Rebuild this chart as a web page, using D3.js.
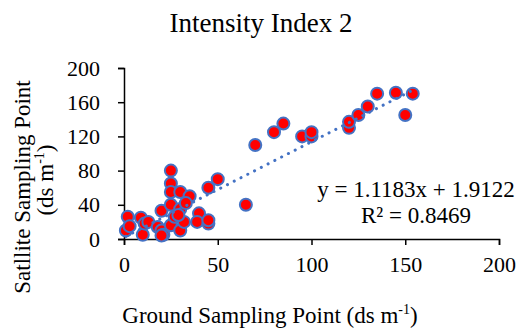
<!DOCTYPE html>
<html>
<head>
<meta charset="utf-8">
<script src="https://cdn.jsdelivr.net/npm/d3@7"></script>
<style>
  body { margin: 0; background: #fff; }
  .axis path, .axis line { stroke: #000; stroke-width: 1.5; }
</style>
</head>
<body>
<div id="chart"></div>
<script>
// values
var groundX = [1, 2, 3, 9, 10, 11, 13, 18, 20, 20, 21,
    25, 25, 25, 30, 35, 25, 30, 20, 25, 30, 32, 27, 29, 33, 40, 39, 45, 45, 45, 50,
    65, 70, 80, 85, 95, 100, 100, 120, 120, 125, 130, 135, 145, 150, 154];
var satY = [10, 26, 15, 25, 5, 18, 20, 14, 33, 10, 5,
    80, 65, 55, 55, 50, 40, 35, 4, 16, 10, 20, 26, 28, 42, 30, 20, 18, 22, 60, 70,
    40, 110, 125, 135, 120, 120, 125, 130, 137, 145, 155, 170, 171, 145, 170];
var xTicks = [0, 50, 100, 150, 200];
var yTicks = [0, 40, 80, 120, 160, 200];
var slope = 1.1183, intercept = 1.9122, rSquared = 0.8469;

var FONT = "'Liberation Serif', 'Times New Roman', serif";

var data = groundX.map(function(x, i) { return {x: x, y: satY[i]}; });

var margin = {top: 68, right: 24, bottom: 93, left: 124};
var width = 523 - margin.left - margin.right,
    height = 332 - margin.top - margin.bottom;

var svg = d3.select("#chart").append("svg")
    .attr("width", 523)
    .attr("height", 332);

var g = svg.append("g")
    .attr("transform", "translate(" + margin.left + "," + margin.top + ")");

var xScale = d3.scaleLinear().domain([0, 200]).range([0, width]);
var yScale = d3.scaleLinear().domain([0, 200]).range([height, 0]);

g.append("g")
    .attr("class", "axis x-axis")
    .attr("transform", "translate(0," + height + ")")
    .call(d3.axisBottom(xScale).tickValues(xTicks).tickSizeOuter(0).tickSize(6).tickPadding(11))
    .selectAll("text")
        .style("font-family", FONT)
        .style("font-size", "22px")
        .style("fill", "#000");

g.append("g")
    .attr("class", "axis y-axis")
    .call(d3.axisLeft(yScale).tickValues(yTicks).tickSizeOuter(0).tickSize(6).tickPadding(18))
    .selectAll("text")
        .style("font-family", FONT)
        .style("font-size", "22px")
        .style("fill", "#000");

g.selectAll("circle")
    .data(data)
    .enter()
    .append("circle")
    .attr("cx", function(d) { return xScale(d.x); })
    .attr("cy", function(d) { return yScale(d.y); })
    .attr("r", 6)
    .style("fill", "#FF0000")
    .style("stroke", "#4472C4")
    .style("stroke-width", 2);

// trendline (dotted), drawn over the markers like Excel
var xExtent = d3.extent(groundX);
g.append("line")
    .attr("x1", xScale(xExtent[0]))
    .attr("y1", yScale(slope * xExtent[0] + intercept))
    .attr("x2", xScale(xExtent[1]))
    .attr("y2", yScale(slope * xExtent[1] + intercept))
    .style("stroke", "#4472C4")
    .style("stroke-width", 3)
    .style("stroke-linecap", "round")
    .style("stroke-dasharray", "0.1,7.5");

// equation
var eq = svg.append("text")
    .attr("text-anchor", "middle")
    .style("font-family", FONT)
    .style("font-size", "23px");
eq.append("tspan")
    .attr("x", 416).attr("y", 197)
    .text("y = " + slope + "x + " + intercept);
eq.append("tspan")
    .attr("x", 416).attr("y", 223)
    .text("R² = " + rSquared);

// title
svg.append("text")
    .attr("x", 261)
    .attr("y", 32)
    .attr("text-anchor", "middle")
    .style("font-family", FONT)
    .style("font-size", "27px")
    .text("Intensity Index 2");

// x axis label
var xl = svg.append("text")
    .attr("x", 270)
    .attr("y", 323)
    .attr("text-anchor", "middle")
    .style("font-family", FONT)
    .style("font-size", "23px");
xl.append("tspan").text("Ground Sampling Point (ds m");
xl.append("tspan").attr("dy", "-9").style("font-size", "14px").text("-1");
xl.append("tspan").attr("dy", "9").text(")");

// y axis label
svg.append("text")
    .attr("transform", "translate(30,187) rotate(-90)")
    .attr("text-anchor", "middle")
    .style("font-family", FONT)
    .style("font-size", "23px")
    .text("Satllite Sampling Point");
var yl2 = svg.append("text")
    .attr("transform", "translate(53,180) rotate(-90)")
    .attr("text-anchor", "middle")
    .style("font-family", FONT)
    .style("font-size", "23px");
yl2.append("tspan").text("(ds m");
yl2.append("tspan").attr("dy", "-9").style("font-size", "14px").text("-1");
yl2.append("tspan").attr("dy", "9").text(")");
</script>
</body>
</html>
